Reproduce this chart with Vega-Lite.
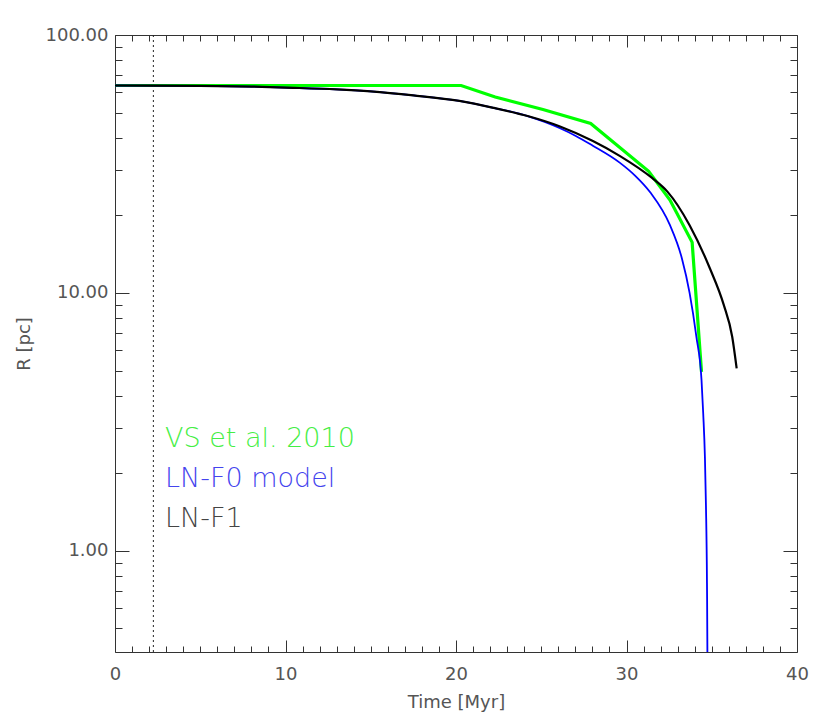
{
  "$schema": "https://vega.github.io/schema/vega-lite/v6.json",
  "width": 682,
  "height": 617,
  "autosize": {"type": "none"},
  "padding": {"left": 115, "top": 35, "right": 33, "bottom": 74},
  "background": "white",
  "config": {
    "view": {"stroke": null},
    "font": "DejaVu Sans",
    "axis": {"grid": false, "domainColor": "#333333", "tickColor": "#333333", "labelColor": "#555555", "titleColor": "#555555", "labelFont": "DejaVu Sans", "titleFont": "DejaVu Sans", "labelFontSize": 18, "titleFontSize": 18, "titleFontWeight": "normal", "labelOverlap": false, "labelFlush": false, "tickWidth": 1, "domainWidth": 1}
  },
  "datasets": {
    "vs": [
      {"series": "VS et al. 2010", "t": 0, "R": 63.7},
      {"series": "VS et al. 2010", "t": 20.3, "R": 63.7},
      {"series": "VS et al. 2010", "t": 22.3, "R": 57.5},
      {"series": "VS et al. 2010", "t": 25.1, "R": 51.4},
      {"series": "VS et al. 2010", "t": 27.9, "R": 45.4},
      {"series": "VS et al. 2010", "t": 31.3, "R": 29.6},
      {"series": "VS et al. 2010", "t": 32.55, "R": 22.9},
      {"series": "VS et al. 2010", "t": 33.85, "R": 15.7},
      {"series": "VS et al. 2010", "t": 34.4, "R": 4.94}
    ],
    "models": [
      {"series": "LN-F0 model", "t": 0, "R": 63.7},
      {"series": "LN-F0 model", "t": 5, "R": 63.5},
      {"series": "LN-F0 model", "t": 8, "R": 63.1},
      {"series": "LN-F0 model", "t": 10.5, "R": 62.4},
      {"series": "LN-F0 model", "t": 13, "R": 61.5},
      {"series": "LN-F0 model", "t": 15, "R": 60.4},
      {"series": "LN-F0 model", "t": 17.5, "R": 58.3},
      {"series": "LN-F0 model", "t": 20.2, "R": 55.5},
      {"series": "LN-F0 model", "t": 22.2, "R": 52.2},
      {"series": "LN-F0 model", "t": 24.2, "R": 48.5},
      {"series": "LN-F0 model", "t": 25.2, "R": 46.0},
      {"series": "LN-F0 model", "t": 26.1, "R": 43.5},
      {"series": "LN-F0 model", "t": 27.0, "R": 40.7},
      {"series": "LN-F0 model", "t": 28.0, "R": 37.3},
      {"series": "LN-F0 model", "t": 29.6, "R": 32.0},
      {"series": "LN-F0 model", "t": 30.5, "R": 28.5},
      {"series": "LN-F0 model", "t": 31.4, "R": 24.5},
      {"series": "LN-F0 model", "t": 32.55, "R": 18.3},
      {"series": "LN-F0 model", "t": 33.25, "R": 13.6},
      {"series": "LN-F0 model", "t": 33.7, "R": 10.0},
      {"series": "LN-F0 model", "t": 34.1, "R": 6.75},
      {"series": "LN-F0 model", "t": 34.4, "R": 4.59},
      {"series": "LN-F0 model", "t": 34.5, "R": 3.4},
      {"series": "LN-F0 model", "t": 34.6, "R": 2.3},
      {"series": "LN-F0 model", "t": 34.66, "R": 1.5},
      {"series": "LN-F0 model", "t": 34.72, "R": 0.75},
      {"series": "LN-F0 model", "t": 34.75, "R": 0.35},
      {"series": "LN-F0 model", "t": 34.76, "R": 0.2},
      {"series": "LN-F1", "t": 0, "R": 63.7},
      {"series": "LN-F1", "t": 5, "R": 63.5},
      {"series": "LN-F1", "t": 8, "R": 63.1},
      {"series": "LN-F1", "t": 10.5, "R": 62.4},
      {"series": "LN-F1", "t": 13, "R": 61.5},
      {"series": "LN-F1", "t": 15, "R": 60.4},
      {"series": "LN-F1", "t": 17.5, "R": 58.3},
      {"series": "LN-F1", "t": 20.2, "R": 55.5},
      {"series": "LN-F1", "t": 22.2, "R": 52.2},
      {"series": "LN-F1", "t": 24.2, "R": 48.5},
      {"series": "LN-F1", "t": 26.1, "R": 44.2},
      {"series": "LN-F1", "t": 28.0, "R": 38.9},
      {"series": "LN-F1", "t": 29.6, "R": 34.0},
      {"series": "LN-F1", "t": 31.5, "R": 27.9},
      {"series": "LN-F1", "t": 32.4, "R": 24.7},
      {"series": "LN-F1", "t": 33.7, "R": 18.3},
      {"series": "LN-F1", "t": 34.9, "R": 12.4},
      {"series": "LN-F1", "t": 35.7, "R": 9.0},
      {"series": "LN-F1", "t": 36.2, "R": 6.76},
      {"series": "LN-F1", "t": 36.46, "R": 5.1}
    ],
    "labels": [
      {"series": "VS et al. 2010", "t": 2.93, "R": 2.52},
      {"series": "LN-F0 model", "t": 2.93, "R": 1.766},
      {"series": "LN-F1", "t": 2.93, "R": 1.239}
    ],
    "marker": [{"t": 2.25}]
  },
  "layer": [
    {
      "data": {"name": "marker"},
      "mark": {"type": "rule", "color": "#222222", "strokeWidth": 1, "strokeDash": [2, 3]},
      "encoding": {
        "x": {"field": "t", "type": "quantitative", "axis": null, "scale": {"domain": [0, 40], "nice": false, "zero": false}}
      }
    },
    {
      "data": {"name": "vs"},
      "mark": {"type": "line", "clip": true, "strokeWidth": 3.2, "color": "#00ff00"},
      "encoding": {
        "x": {"field": "t", "type": "quantitative", "scale": {"domain": [0, 40], "nice": false, "zero": false},
          "axis": {"orient": "bottom", "title": "Time [Myr]", "values": [0,1,2,3,4,5,6,7,8,9,10,11,12,13,14,15,16,17,18,19,20,21,22,23,24,25,26,27,28,29,30,31,32,33,34,35,36,37,38,39,40],
            "labelExpr": "datum.value % 10 == 0 ? datum.label : ''",
            "tickSize": {"condition": {"test": "datum.value % 10 == 0", "value": -12}, "value": -6},
            "labelPadding": 25, "titlePadding": 4}},
        "y": {"field": "R", "type": "quantitative", "scale": {"type": "log", "domain": [0.405, 100], "nice": false},
          "axis": {"orient": "left", "title": "R [pc]", "values": [0.5,0.6,0.7,0.8,0.9,1,2,3,4,5,6,7,8,9,10,20,30,40,50,60,70,80,90,100],
            "labelExpr": "(datum.value == 1 || datum.value == 10 || datum.value == 100) ? format(datum.value, '.2f') : ''",
            "tickSize": {"condition": {"test": "datum.value == 1 || datum.value == 10 || datum.value == 100", "value": -14}, "value": -7},
            "labelPadding": 21, "titlePadding": 12}}
      }
    },
    {
      "data": {"name": "models"},
      "mark": {"type": "line", "clip": true, "interpolate": "monotone"},
      "encoding": {
        "x": {"field": "t", "type": "quantitative", "axis": null, "scale": {"domain": [0, 40], "nice": false, "zero": false}},
        "y": {"field": "R", "type": "quantitative", "axis": null, "scale": {"type": "log", "domain": [0.405, 100], "nice": false}},
        "color": {"field": "series", "type": "nominal", "legend": null,
          "scale": {"domain": ["LN-F0 model", "LN-F1"], "range": ["#0000ff", "#000000"]}},
        "strokeWidth": {"field": "series", "type": "nominal", "legend": null,
          "scale": {"domain": ["LN-F0 model", "LN-F1"], "range": [1.8, 2.2]}}
      }
    },
    {
      "data": {"name": "labels"},
      "mark": {"type": "text", "align": "left", "baseline": "alphabetic", "fontSize": 27, "font": "DejaVu Sans", "fontWeight": 300},
      "encoding": {
        "x": {"field": "t", "type": "quantitative", "scale": {"domain": [0, 40], "nice": false, "zero": false},
          "axis": {"orient": "top", "title": null, "labels": false, "values": [0,1,2,3,4,5,6,7,8,9,10,11,12,13,14,15,16,17,18,19,20,21,22,23,24,25,26,27,28,29,30,31,32,33,34,35,36,37,38,39,40],
            "tickSize": {"condition": {"test": "datum.value % 10 == 0", "value": -12}, "value": -6}}},
        "y": {"field": "R", "type": "quantitative", "scale": {"type": "log", "domain": [0.405, 100], "nice": false},
          "axis": {"orient": "right", "title": null, "labels": false, "values": [0.5,0.6,0.7,0.8,0.9,1,2,3,4,5,6,7,8,9,10,20,30,40,50,60,70,80,90,100],
            "tickSize": {"condition": {"test": "datum.value == 1 || datum.value == 10 || datum.value == 100", "value": -14}, "value": -7}}},
        "text": {"field": "series", "type": "nominal"},
        "color": {"field": "series", "type": "nominal", "legend": null,
          "scale": {"domain": ["VS et al. 2010", "LN-F0 model", "LN-F1"], "range": ["#44ee44", "#4444ee", "#444444"]}}
      }
    }
  ],
  "resolve": {"axis": {"x": "independent", "y": "independent"}, "scale": {"color": "independent", "strokeWidth": "independent"}}
}
